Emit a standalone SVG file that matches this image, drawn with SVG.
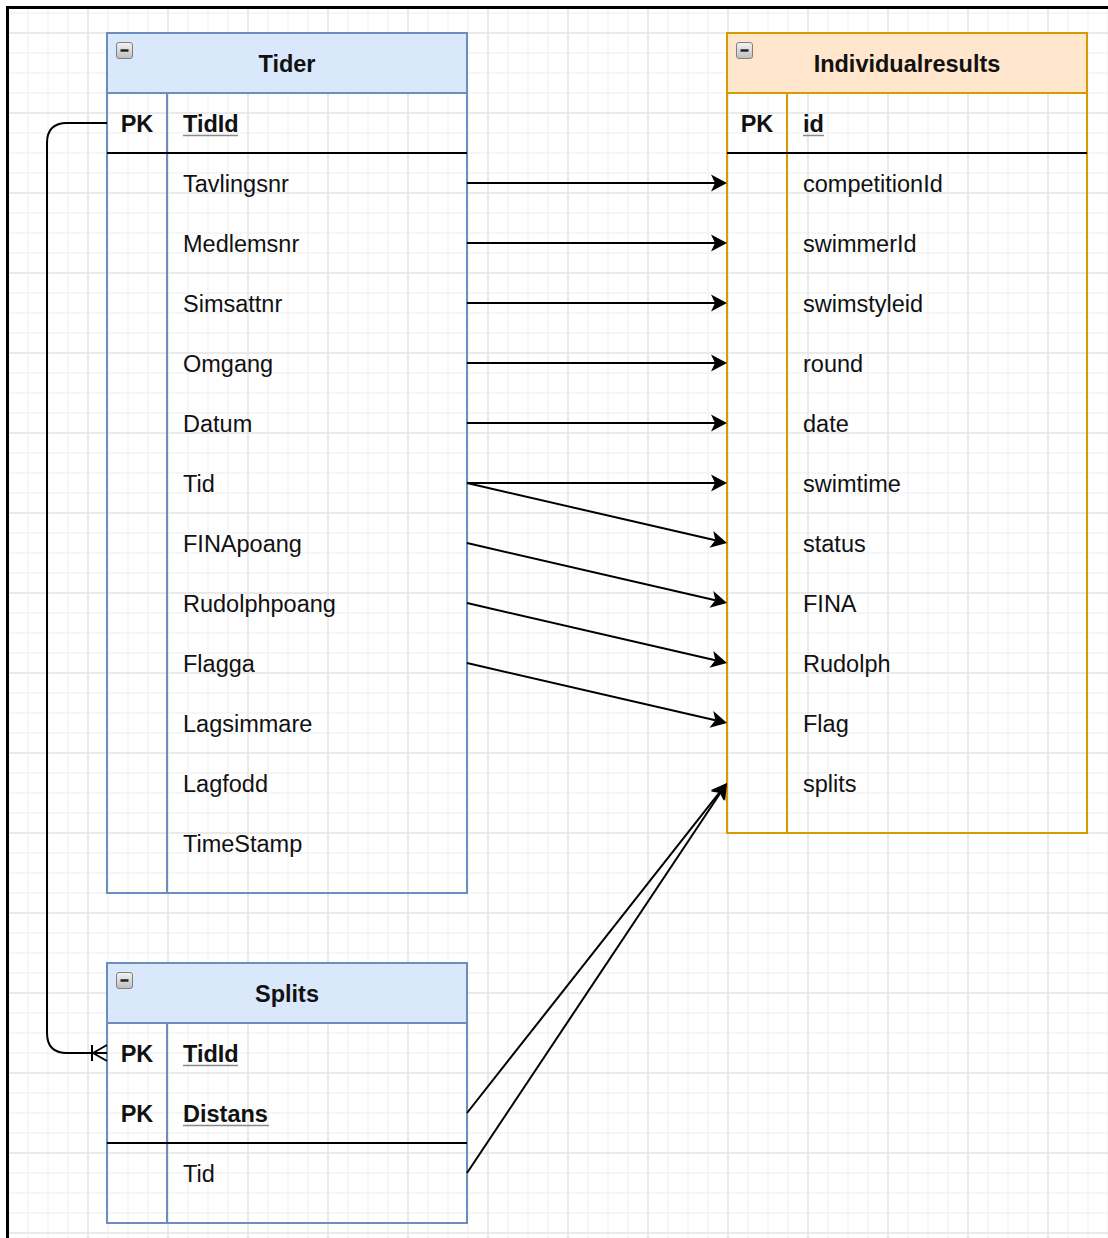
<svg xmlns="http://www.w3.org/2000/svg" width="1108" height="1238" viewBox="0 0 1108 1238">
  <defs>
    <pattern id="grid" x="-2" y="23" width="80" height="80" patternUnits="userSpaceOnUse">
      <path d="M30 0V80M50 0V80M70 0V80M0 30H80M0 50H80M0 70H80" stroke="#f3f3f3" stroke-width="1.5" fill="none"/>
      <path d="M10 0V80M0 10H80" stroke="#e4e4e4" stroke-width="1.5" fill="none"/>
    </pattern>
    <linearGradient id="btn" x1="0" y1="0" x2="0" y2="1">
      <stop offset="0" stop-color="#f4f4f4"/>
      <stop offset="1" stop-color="#bdbdbd"/>
    </linearGradient>
    <marker id="arrow" markerUnits="userSpaceOnUse" markerWidth="40" markerHeight="40" viewBox="-20 -20 40 40" refX="0" refY="0" orient="auto">
      <path d="M12,0 L-4,-8.5 L0,0 L-4,8.5 Z" fill="#000"/>
    </marker>
    <g id="collapse">
      <rect x="0.5" y="0.5" width="16" height="16" rx="2.5" fill="url(#btn)" stroke="#808080" stroke-width="1"/>
      <path d="M4.5 8.5H12.5" stroke="#222" stroke-width="2.5"/>
    </g>
  </defs>
  <style>
    text { font-family: "Liberation Sans", Arial, sans-serif; font-size: 23.5px; fill: #111; }
    .title { font-weight: bold; text-anchor: middle; }
    .pk { font-weight: bold; text-anchor: middle; }
    .key { font-weight: bold; }
    .ul { stroke: #8a8a8a; stroke-width: 1.5; }
    .blue { stroke: #6c8ebf; stroke-width: 2; }
    .orange { stroke: #d79b00; stroke-width: 2; }
    .sep { stroke: #000; stroke-width: 2; }
    .edge { stroke: #000; stroke-width: 2; fill: none; }
  </style>

  <!-- canvas -->
  <rect x="0" y="0" width="1108" height="1238" fill="#fff"/>
  <rect x="9" y="9" width="1099" height="1229" fill="url(#grid)"/>
  <path d="M7.5 1238V7.5H1108" stroke="#000" stroke-width="3" fill="none"/>

  <!-- Tider -->
  <g id="tider">
    <rect x="107" y="33" width="360" height="60" fill="#dae8fc" class="blue"/>
    <rect x="107" y="93" width="360" height="800" fill="none" class="blue"/>
    <line x1="167" y1="93" x2="167" y2="893" class="blue"/>
    <line x1="107" y1="153" x2="467" y2="153" class="sep"/>
    <use href="#collapse" x="116" y="42"/>
    <text x="287" y="71.5" class="title">Tider</text>
    <text x="137" y="131.5" class="pk">PK</text>
    <text x="183" y="131.5" class="key">TidId</text>
    <line x1="183" y1="135.5" x2="238" y2="135.5" class="ul"/>
    <text x="183" y="191.5">Tavlingsnr</text>
    <text x="183" y="251.5">Medlemsnr</text>
    <text x="183" y="311.5">Simsattnr</text>
    <text x="183" y="371.5">Omgang</text>
    <text x="183" y="431.5">Datum</text>
    <text x="183" y="491.5">Tid</text>
    <text x="183" y="551.5">FINApoang</text>
    <text x="183" y="611.5">Rudolphpoang</text>
    <text x="183" y="671.5">Flagga</text>
    <text x="183" y="731.5">Lagsimmare</text>
    <text x="183" y="791.5">Lagfodd</text>
    <text x="183" y="851.5">TimeStamp</text>
  </g>

  <!-- Individualresults -->
  <g id="individualresults">
    <rect x="727" y="33" width="360" height="60" fill="#ffe6cc" class="orange"/>
    <rect x="727" y="93" width="360" height="740" fill="none" class="orange"/>
    <line x1="787" y1="93" x2="787" y2="833" class="orange"/>
    <line x1="727" y1="153" x2="1087" y2="153" class="sep"/>
    <use href="#collapse" x="736" y="42"/>
    <text x="907" y="71.5" class="title">Individualresults</text>
    <text x="757" y="131.5" class="pk">PK</text>
    <text x="803" y="131.5" class="key">id</text>
    <line x1="803" y1="135.5" x2="824" y2="135.5" class="ul"/>
    <text x="803" y="191.5">competitionId</text>
    <text x="803" y="251.5">swimmerId</text>
    <text x="803" y="311.5">swimstyleid</text>
    <text x="803" y="371.5">round</text>
    <text x="803" y="431.5">date</text>
    <text x="803" y="491.5">swimtime</text>
    <text x="803" y="551.5">status</text>
    <text x="803" y="611.5">FINA</text>
    <text x="803" y="671.5">Rudolph</text>
    <text x="803" y="731.5">Flag</text>
    <text x="803" y="791.5">splits</text>
  </g>

  <!-- Splits -->
  <g id="splits">
    <rect x="107" y="963" width="360" height="60" fill="#dae8fc" class="blue"/>
    <rect x="107" y="1023" width="360" height="200" fill="none" class="blue"/>
    <line x1="167" y1="1023" x2="167" y2="1223" class="blue"/>
    <line x1="107" y1="1143" x2="467" y2="1143" class="sep"/>
    <use href="#collapse" x="116" y="972"/>
    <text x="287" y="1001.5" class="title">Splits</text>
    <text x="137" y="1061.5" class="pk">PK</text>
    <text x="183" y="1061.5" class="key">TidId</text>
    <line x1="183" y1="1065.5" x2="238" y2="1065.5" class="ul"/>
    <text x="137" y="1121.5" class="pk">PK</text>
    <text x="183" y="1121.5" class="key">Distans</text>
    <line x1="183" y1="1125.5" x2="269" y2="1125.5" class="ul"/>
    <text x="183" y="1181.5">Tid</text>
  </g>

  <!-- connectors -->
  <g id="connectors" class="edge">
    <path d="M107 123H67Q47 123 47 143V1033Q47 1053 67 1053H107"/>
    <path d="M92 1045V1061M93 1053L107 1045M93 1053L107 1061"/>
    <path d="M467 183H715" marker-end="url(#arrow)"/>
    <path d="M467 243H715" marker-end="url(#arrow)"/>
    <path d="M467 303H715" marker-end="url(#arrow)"/>
    <path d="M467 363H715" marker-end="url(#arrow)"/>
    <path d="M467 423H715" marker-end="url(#arrow)"/>
    <path d="M467 483H715" marker-end="url(#arrow)"/>
    <path d="M467 483L715.31 540.3" marker-end="url(#arrow)"/>
    <path d="M467 543L715.31 600.3" marker-end="url(#arrow)"/>
    <path d="M467 603L715.31 660.3" marker-end="url(#arrow)"/>
    <path d="M467 663L715.31 720.3" marker-end="url(#arrow)"/>
    <path d="M467 1113L719.57 792.43" marker-end="url(#arrow)"/>
    <path d="M467 1173L720.34 792.99" marker-end="url(#arrow)"/>
  </g>
</svg>
